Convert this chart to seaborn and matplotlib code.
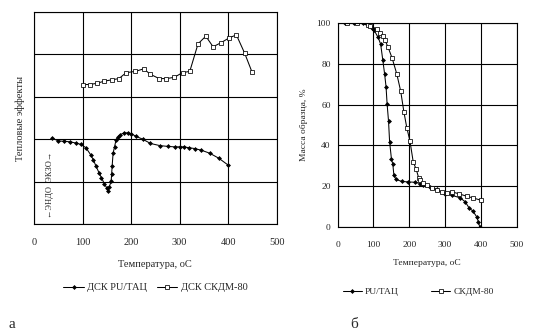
import matplotlib
matplotlib.use("Agg")
import matplotlib.pyplot as plt
import seaborn as sns
import pandas as pd

# DSC curves (arbitrary heat-flow units), temperature in °C
dsc_pu_t = [37, 50, 62, 74, 86, 96, 107, 117, 122, 128, 134, 139, 145, 150, 153,
            155, 159, 160, 161, 163, 166, 169, 173, 178, 186, 193, 200, 210, 224,
            240, 259, 276, 290, 300, 309, 319, 331, 345, 362, 381, 400]
dsc_pu_q = [2.03, 1.96, 1.95, 1.94, 1.91, 1.88, 1.80, 1.63, 1.52, 1.36, 1.21, 1.09,
            0.95, 0.85, 0.78, 0.87, 1.01, 1.17, 1.36, 1.67, 1.82, 1.98, 2.05, 2.11,
            2.15, 2.15, 2.13, 2.07, 2.00, 1.90, 1.85, 1.83, 1.82, 1.82, 1.82, 1.80,
            1.78, 1.74, 1.67, 1.55, 1.39]

dsc_skdm_t = [100, 115, 130, 145, 160, 175, 190, 209, 226, 240, 258, 273, 289, 306,
              321, 338, 354, 369, 386, 402, 417, 434, 449]
dsc_skdm_q = [3.29, 3.29, 3.32, 3.37, 3.40, 3.43, 3.57, 3.60, 3.66, 3.53, 3.43, 3.43,
              3.46, 3.57, 3.60, 4.25, 4.43, 4.18, 4.28, 4.39, 4.46, 4.03, 3.59]

# TGA curves: sample mass, %
tga_pu_t = [20, 45, 70, 95, 101, 113, 120, 126, 131, 135, 138, 142, 145, 150, 154,
            157, 163, 179, 197, 216, 230, 239, 258, 276, 300, 318, 342, 356, 368,
            377, 388, 393, 397]
tga_pu_m = [100, 100, 99.7, 97.6, 96.5, 92.8, 89.5, 81.7, 75.0, 68.8, 60.3, 51.9,
            41.8, 33.6, 30.8, 25.4, 23.4, 22.4, 22.2, 22.0, 21.4, 20.6, 19.8, 18.5,
            16.5, 15.7, 14.4, 12.5, 9.2, 8.1, 5.2, 2.7, 0.0]

tga_skdm_t = [25, 55, 84, 90, 109, 118, 126, 132, 141, 152, 165, 176, 185, 193, 202,
              211, 219, 226, 230, 237, 250, 263, 276, 290, 304, 318, 340, 360, 379, 399]
tga_skdm_m = [100, 100, 99.0, 98.4, 97.0, 95.2, 93.6, 91.5, 87.9, 82.7, 75.0, 66.5,
              56.3, 48.7, 42.0, 31.9, 28.5, 24.3, 23.0, 21.6, 20.6, 19.0, 18.2, 17.1,
              16.7, 17.4, 16.3, 15.2, 14.3, 13.3]

x_ticks = [0, 100, 200, 300, 400, 500]
mass_ticks = [0, 20, 40, 60, 80, 100]

sns.set_style("white")
plt.rcParams["font.family"] = ["Liberation Serif", "DejaVu Serif"]

fig = plt.figure(figsize=(5.41, 3.33), dpi=100)
ax_a = fig.add_axes([0.0628, 0.3273, 0.4486, 0.6366])
ax_b = fig.add_axes([0.6242, 0.3174, 0.3309, 0.6144])

line_kw = dict(color="black", linewidth=0.75, sort=False, estimator=None)
pu_kw = dict(marker="D", markersize=2.0, markerfacecolor="black",
             markeredgecolor="black", markeredgewidth=0.5)
sk_kw = dict(marker="s", markersize=2.3, markerfacecolor="white",
             markeredgecolor="black", markeredgewidth=0.55)

# panel a: DSC
sns.lineplot(data=pd.DataFrame({"t": dsc_pu_t, "q": dsc_pu_q}), x="t", y="q",
             ax=ax_a, label="ДСК PU/ТАЦ", **line_kw, **pu_kw)
sns.lineplot(data=pd.DataFrame({"t": dsc_skdm_t, "q": dsc_skdm_q}), x="t", y="q",
             ax=ax_a, label="ДСК СКДМ-80", **line_kw, **sk_kw)
ax_a.set_xlim(0, 500)
ax_a.set_ylim(0, 5)
ax_a.set_xticks(x_ticks)
ax_a.set_yticks([0, 1, 2, 3, 4, 5])
ax_a.set_yticklabels([])
ax_a.tick_params(axis="both", length=0, labelsize=7.5)
ax_a.tick_params(axis="x", pad=10)
ax_a.grid(True, color="black", linewidth=0.8)
ax_a.set_xlabel("Температура, оС", fontsize=7.5)
ax_a.xaxis.set_label_coords(0.5, -0.19)
ax_a.xaxis.label.set_va("center")
ax_a.set_ylabel("Тепловые эффекты", fontsize=7.5)
ax_a.yaxis.set_label_coords(-0.058, 0.5)
ax_a.yaxis.label.set_va("center")
ax_a.text(0.066, 0.185, "←ЭНДО  ЭКЗО→", transform=ax_a.transAxes, rotation=90,
          ha="center", va="center", fontsize=6)
ax_a.legend(loc="center", bbox_to_anchor=(0.5, -0.3), ncol=2, frameon=False,
            fontsize=7.5, handlelength=2.0, handletextpad=0.3, columnspacing=0.9,
            borderaxespad=0)

# panel b: TGA
sns.lineplot(data=pd.DataFrame({"t": tga_pu_t, "m": tga_pu_m}), x="t", y="m",
             ax=ax_b, label="PU/ТАЦ", **line_kw, **pu_kw)
sns.lineplot(data=pd.DataFrame({"t": tga_skdm_t, "m": tga_skdm_m}), x="t", y="m",
             ax=ax_b, label="СКДМ-80", **line_kw, **sk_kw)
ax_b.set_xlim(0, 500)
ax_b.set_ylim(0, 100)
ax_b.set_xticks(x_ticks)
ax_b.set_yticks(mass_ticks)
ax_b.tick_params(axis="both", length=0, labelsize=6.8)
ax_b.tick_params(axis="x", pad=10)
ax_b.tick_params(axis="y", pad=5)
ax_b.grid(True, color="black", linewidth=0.8)
ax_b.set_xlabel("Температура, оС", fontsize=6.8)
ax_b.xaxis.set_label_coords(0.5, -0.175)
ax_b.xaxis.label.set_va("center")
ax_b.set_ylabel("Масса образца, %", fontsize=6.8)
ax_b.yaxis.set_label_coords(-0.19, 0.5)
ax_b.yaxis.label.set_va("center")
ax_b.legend(loc="center", bbox_to_anchor=(0.45, -0.315), ncol=2, frameon=False,
            fontsize=6.8, handlelength=2.0, handletextpad=0.3, columnspacing=3.5,
            borderaxespad=0)

for ax in (ax_a, ax_b):
    for s in ax.spines.values():
        s.set_color("black")
        s.set_linewidth(0.8)

fig.text(0.015, 1 - 325 / 333, "а", fontsize=11, va="center", ha="left")
fig.text(0.648, 1 - 325 / 333, "б", fontsize=11, va="center", ha="left")

fig.savefig("out.png", dpi=100)
